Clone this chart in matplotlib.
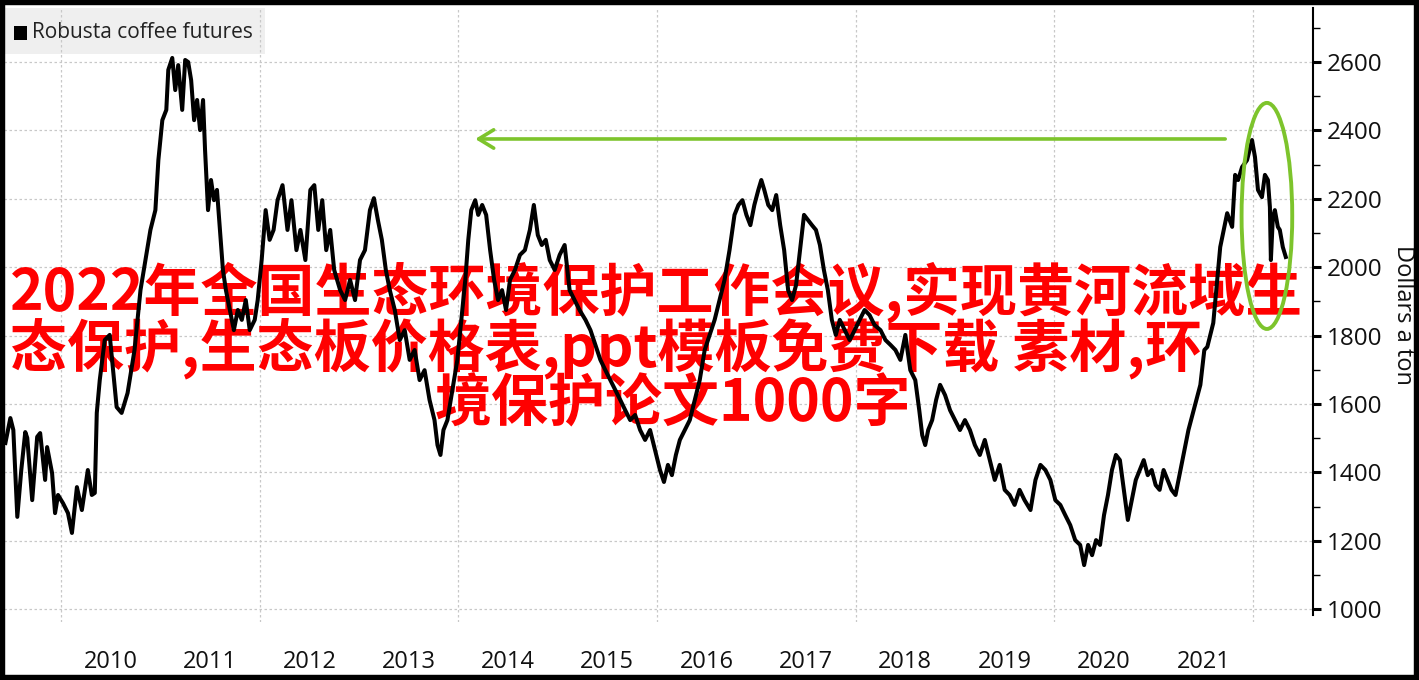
import matplotlib
matplotlib.use('Agg')
import matplotlib.pyplot as plt
from matplotlib.patches import Ellipse, Rectangle
from matplotlib.ticker import MultipleLocator

# ---------------- data ----------------
dates = [
    2009.44, 2009.49, 2009.52, 2009.56, 2009.60, 2009.64, 2009.66, 2009.71, 2009.76, 2009.79,
    2009.84, 2009.86, 2009.91, 2009.94, 2009.97, 2010.02, 2010.07, 2010.11, 2010.16, 2010.21,
    2010.27, 2010.31, 2010.34, 2010.36, 2010.39, 2010.44, 2010.49, 2010.56, 2010.61, 2010.67,
    2010.74, 2010.80, 2010.85, 2010.90, 2010.95, 2010.98, 2011.02, 2011.06, 2011.08, 2011.12,
    2011.15, 2011.18, 2011.22, 2011.25, 2011.28, 2011.31, 2011.34, 2011.37, 2011.40, 2011.43,
    2011.45, 2011.48, 2011.51, 2011.54, 2011.57, 2011.60, 2011.63, 2011.66, 2011.70, 2011.74,
    2011.78, 2011.82, 2011.86, 2011.90, 2011.95, 2011.98, 2012.02, 2012.06, 2012.10, 2012.14,
    2012.18, 2012.23, 2012.28, 2012.32, 2012.37, 2012.41, 2012.46, 2012.51, 2012.55, 2012.59,
    2012.63, 2012.67, 2012.71, 2012.75, 2012.81, 2012.86, 2012.91, 2012.96, 2013.01, 2013.06,
    2013.11, 2013.15, 2013.19, 2013.23, 2013.27, 2013.31, 2013.36, 2013.41, 2013.46, 2013.51,
    2013.56, 2013.61, 2013.66, 2013.71, 2013.76, 2013.79, 2013.82, 2013.85, 2013.89, 2013.94,
    2013.99, 2014.03, 2014.07, 2014.10, 2014.13, 2014.17, 2014.20, 2014.24, 2014.28, 2014.32,
    2014.36, 2014.40, 2014.44, 2014.48, 2014.52, 2014.57, 2014.62, 2014.67, 2014.72, 2014.76,
    2014.80, 2014.84, 2014.88, 2014.92, 2014.97, 2015.02, 2015.07, 2015.12, 2015.17, 2015.22,
    2015.28, 2015.33, 2015.38, 2015.43, 2015.48, 2015.53, 2015.58, 2015.63, 2015.68, 2015.73,
    2015.78, 2015.83, 2015.88, 2015.93, 2015.98, 2016.03, 2016.07, 2016.11, 2016.15, 2016.19,
    2016.23, 2016.28, 2016.33, 2016.38, 2016.43, 2016.48, 2016.53, 2016.58, 2016.63, 2016.68,
    2016.73, 2016.78, 2016.82, 2016.86, 2016.90, 2016.94, 2016.98, 2017.02, 2017.05, 2017.08,
    2017.12, 2017.16, 2017.20, 2017.24, 2017.28, 2017.32, 2017.36, 2017.40, 2017.44, 2017.48,
    2017.52, 2017.56, 2017.60, 2017.64, 2017.68, 2017.72, 2017.76, 2017.80, 2017.84, 2017.89,
    2017.94, 2017.99, 2018.04, 2018.09, 2018.14, 2018.19, 2018.25, 2018.30, 2018.35, 2018.40,
    2018.45, 2018.50, 2018.55, 2018.60, 2018.64, 2018.67, 2018.70, 2018.73, 2018.77, 2018.81,
    2018.85, 2018.90, 2018.95, 2019.00, 2019.05, 2019.10, 2019.15, 2019.20, 2019.25, 2019.30,
    2019.35, 2019.40, 2019.45, 2019.50, 2019.55, 2019.60, 2019.65, 2019.70, 2019.76, 2019.81,
    2019.86, 2019.91, 2019.96, 2020.01, 2020.06, 2020.11, 2020.16, 2020.21, 2020.26, 2020.30,
    2020.34, 2020.38, 2020.42, 2020.46, 2020.50, 2020.54, 2020.58, 2020.62, 2020.66, 2020.70,
    2020.74, 2020.78, 2020.82, 2020.86, 2020.90, 2020.94, 2020.98, 2021.02, 2021.06, 2021.10,
    2021.14, 2021.18, 2021.22, 2021.27, 2021.31, 2021.35, 2021.39, 2021.43, 2021.47, 2021.51,
    2021.54, 2021.60, 2021.67, 2021.74, 2021.79, 2021.82, 2021.85, 2021.89, 2021.94, 2021.99,
    2022.02, 2022.05, 2022.09, 2022.12, 2022.15, 2022.17, 2022.18, 2022.20, 2022.22, 2022.25,
    2022.27, 2022.30, 2022.33,
]
prices = [
    1486, 1559, 1524, 1270, 1407, 1518, 1501, 1319, 1504, 1515,
    1378, 1474, 1398, 1281, 1334, 1310, 1281, 1223, 1357, 1290,
    1407, 1334, 1340, 1574, 1670, 1787, 1802, 1591, 1574, 1632,
    1758, 1933, 2021, 2109, 2167, 2313, 2430, 2460, 2577, 2612,
    2518, 2591, 2460, 2606, 2600, 2547, 2430, 2489, 2401, 2489,
    2343, 2167, 2255, 2196, 2226, 2109, 1992, 1933, 1875, 1816,
    1875, 1846, 1904, 1816, 1846, 1904, 2021, 2167, 2080, 2109,
    2196, 2240, 2109, 2196, 2050, 2109, 2021, 2226, 2240, 2109,
    2196, 2050, 2109, 1992, 1933, 1904, 1963, 1904, 2021, 2050,
    2167, 2202, 2138, 2080, 1992, 1933, 1875, 1787, 1816, 1729,
    1758, 1670, 1699, 1612, 1553, 1480, 1451, 1524, 1553, 1641,
    1729, 1846, 1963, 2080, 2167, 2196, 2153, 2182, 2153, 2050,
    1963, 1904, 1933, 1875, 1963, 1992, 2036, 2050, 2109, 2182,
    2094, 2065, 2080, 2021, 1992, 2036, 2065, 1933, 1904, 1875,
    1846, 1816, 1773, 1729, 1699, 1670, 1641, 1612, 1582, 1553,
    1568, 1524, 1495, 1524, 1465, 1407, 1372, 1422, 1392, 1451,
    1495, 1524, 1553, 1612, 1670, 1758, 1802, 1846, 1904, 1963,
    2050, 2153, 2182, 2196, 2153, 2123, 2182, 2226, 2255, 2226,
    2182, 2167, 2211, 2123, 2050, 1933, 1904, 1948, 2050, 2153,
    2138, 2123, 2109, 2065, 1992, 1933, 1846, 1802, 1846, 1816,
    1787, 1816, 1846, 1875, 1860, 1831, 1816, 1787, 1773, 1758,
    1729, 1802, 1699, 1670, 1582, 1509, 1480, 1524, 1553, 1612,
    1656, 1626, 1582, 1553, 1524, 1553, 1524, 1480, 1451, 1495,
    1436, 1378, 1422, 1349, 1334, 1305, 1349, 1319, 1290, 1378,
    1422, 1407, 1378, 1319, 1305, 1275, 1246, 1202, 1188, 1129,
    1188, 1158, 1202, 1188, 1275, 1334, 1407, 1451, 1436, 1349,
    1261, 1319, 1378, 1407, 1436, 1392, 1407, 1363, 1349, 1407,
    1378, 1349, 1334, 1407, 1465, 1524, 1568, 1612, 1656, 1758,
    1767, 1837, 2059, 2158, 2118, 2270, 2255, 2293, 2313, 2372,
    2322, 2226, 2205, 2270, 2255, 2176, 2021, 2147, 2167, 2118,
    2109, 2059, 2030,
]

y_ticks = [1000, 1200, 1400, 1600, 1800, 2000, 2200, 2400, 2600]
grid_years = [2010, 2012, 2014, 2016, 2018, 2020, 2022]
year_labels = ['2010', '2011', '2012', '2013', '2014', '2015', '2016',
               '2017', '2018', '2019', '2020', '2021']
label_pos = [int(y) + 0.5 for y in year_labels]

legend_label = 'Robusta coffee futures'
y_title = 'Dollars a ton'
arrow_from = (2021.72, 2375)
arrow_to = (2014.17, 2375)
ellipse_center = (2022.14, 2150)
ellipse_size = (0.51, 661)

overlay_lines = [
    '2022年全国生态环境保护工作会议,实现黄河流域生',
    '态保护,生态板价格表,ppt模板免费下载 素材,环',
    '境保护论文1000字',
]

# ---------------- figure ----------------
W, H = 1419, 680
fig = plt.figure(figsize=(W / 100, H / 100), dpi=100)
fig.patch.set_facecolor('white')

ax = fig.add_axes([4 / W, 1 - 622 / H, (1313 - 4) / W, (622 - 8) / H])
ax.set_facecolor('white')
ax.set_axisbelow(True)

ax.plot(dates, prices, color='black', lw=2.9, zorder=3)

ax.set_xlim(2009.426, 2022.604)
ax.set_ylim(962.6, 2758)

for s in ['top', 'left', 'bottom']:
    ax.spines[s].set_visible(False)
ax.spines['right'].set_linewidth(1.5)
ax.spines['right'].set_bounds(983, 2758)

tick_font = 'Open Sans'
ax.yaxis.tick_right()
ax.set_yticks(y_ticks)
ax.set_yticklabels([str(v) for v in y_ticks], fontname=tick_font, fontsize=17.5, color='#111111')
ax.yaxis.set_minor_locator(MultipleLocator(100))
ax.tick_params(axis='y', which='major', length=6, width=2.2, direction='out', pad=4)
ax.tick_params(axis='y', which='minor', length=5, width=1, direction='out')

ax.set_xticks(grid_years)
ax.set_xticklabels([''] * len(grid_years))
ax.set_xticks(label_pos, minor=True)
ax.set_xticklabels(year_labels, minor=True, fontname=tick_font, fontsize=17, color='#111111')
ax.tick_params(axis='x', which='both', length=0, pad=20)

ax.grid(True, which='major', axis='both', color='#c8c8c8', linestyle=(0, (2, 2)), lw=0.9)

# legend box
ax.add_patch(Rectangle((3 / W, 1 - 54 / H), 262 / W, 46 / H, transform=fig.transFigure,
                       facecolor='#efefef', edgecolor='none', zorder=0.2, clip_on=False))
fig.patches.append(Rectangle((14 / W, 1 - 40 / H), 13 / W, 14 / H, transform=fig.transFigure,
                             facecolor='black', edgecolor='none'))
fig.text(32 / W, 1 - 33 / H, legend_label, fontname=tick_font, fontsize=15,
         color='#222222', ha='left', va='center')

# right title
fig.text(1403 / W, 1 - 315 / H, y_title, rotation=270, fontname=tick_font, fontsize=17,
         color='#111111', ha='center', va='center')

# green annotations
green = '#7dc42c'
ax.annotate('', xy=arrow_to, xytext=arrow_from,
            arrowprops=dict(arrowstyle='->,head_length=0.54,head_width=0.33', color=green,
                            lw=2.6, mutation_scale=20, shrinkA=0, shrinkB=0), zorder=4)
ax.add_patch(Ellipse(ellipse_center, ellipse_size[0], ellipse_size[1], fill=False,
                     edgecolor=green, lw=2.8, zorder=4))

# red overlay text (drawn beneath the price line, as in the reference)
cjk = ['Noto Sans CJK SC', 'DejaVu Sans']
overlay_pos = [(10, 292), (10, 349), (435, 404)]
for txt, (px, py) in zip(overlay_lines, overlay_pos):
    ax.text(px / W, 1 - py / H, txt, transform=fig.transFigure, color='#ff0000',
            fontsize=41, fontweight='bold', family=cjk, ha='left', va='center',
            zorder=2.5, clip_on=False)

# black frame
fig.patches.append(Rectangle((0, 0), 1, 1, transform=fig.transFigure, fill=False,
                             edgecolor='black', lw=7.5, zorder=30))

fig.savefig('out.png', dpi=100)
